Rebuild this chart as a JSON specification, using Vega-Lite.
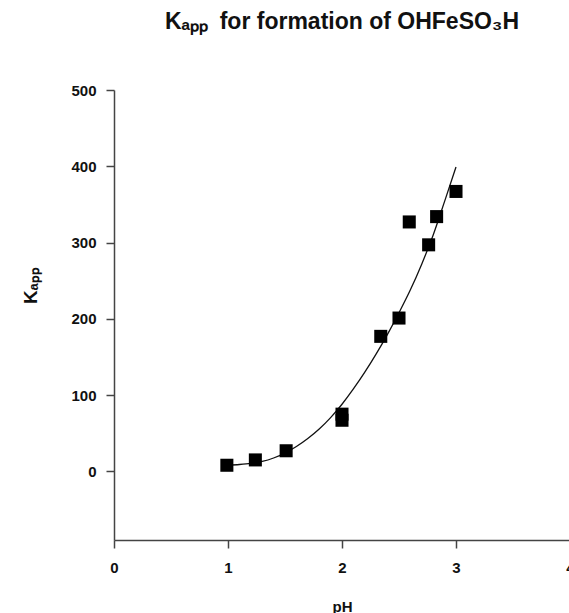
{
  "$schema": "https://vega.github.io/schema/vega-lite/v6.json",
  "autosize": "none",
  "padding": {"left": 114, "top": 90, "right": 0, "bottom": 73},
  "width": 456,
  "height": 450,
  "background": "white",
  "title": {
    "text": "Kₐₚₚ\u2002for formation of OHFeSO₃H",
    "font": "Liberation Sans",
    "fontSize": 23,
    "fontWeight": "bold",
    "color": "#111",
    "anchor": "middle",
    "offset": 49
  },
  "config": {
    "view": {"stroke": null},
    "axis": {
      "grid": false,
      "domainColor": "#444",
      "domainWidth": 1.5,
      "tickColor": "#444",
      "tickWidth": 1.5,
      "tickSize": 8,
      "labelFont": "Liberation Sans",
      "labelFontSize": 15,
      "labelFontWeight": "bold",
      "labelColor": "#111",
      "labelFlush": false,
      "titleFont": "Liberation Sans",
      "titleFontWeight": "bold",
      "titleColor": "#111"
    }
  },
  "datasets": {
    "points": [
      {"pH": 0.99, "Kapp": 8},
      {"pH": 1.24, "Kapp": 15},
      {"pH": 1.51, "Kapp": 27},
      {"pH": 2.0, "Kapp": 75},
      {"pH": 2.0, "Kapp": 67},
      {"pH": 2.34, "Kapp": 177},
      {"pH": 2.5, "Kapp": 201},
      {"pH": 2.59, "Kapp": 327},
      {"pH": 2.76, "Kapp": 297},
      {"pH": 2.83, "Kapp": 334},
      {"pH": 3.0, "Kapp": 367}
    ],
    "fit": [
      {"pH": 1.0, "Kapp": 8},
      {"pH": 1.1, "Kapp": 9},
      {"pH": 1.2, "Kapp": 10.5},
      {"pH": 1.3, "Kapp": 13},
      {"pH": 1.4, "Kapp": 17.5},
      {"pH": 1.5, "Kapp": 24},
      {"pH": 1.6, "Kapp": 32.5},
      {"pH": 1.7, "Kapp": 43},
      {"pH": 1.8, "Kapp": 55.5},
      {"pH": 1.9, "Kapp": 70.5},
      {"pH": 2.0, "Kapp": 88},
      {"pH": 2.1, "Kapp": 108},
      {"pH": 2.2, "Kapp": 130},
      {"pH": 2.3, "Kapp": 154},
      {"pH": 2.4, "Kapp": 180},
      {"pH": 2.5, "Kapp": 208},
      {"pH": 2.6, "Kapp": 238},
      {"pH": 2.7, "Kapp": 272},
      {"pH": 2.8, "Kapp": 310},
      {"pH": 2.9, "Kapp": 354},
      {"pH": 3.0, "Kapp": 399}
    ]
  },
  "layer": [
    {
      "mark": {"type": "rule", "color": "#444", "strokeWidth": 1.5},
      "encoding": {"y": {"datum": 500, "type": "quantitative", "scale": {"domain": [-90, 500]}}}
    },
    {
      "data": {"name": "fit"},
      "mark": {"type": "line", "color": "#111", "strokeWidth": 1.3, "interpolate": "monotone"},
      "encoding": {
        "x": {"field": "pH", "type": "quantitative"},
        "y": {"field": "Kapp", "type": "quantitative"}
      }
    },
    {
      "data": {"name": "points"},
      "mark": {"type": "point", "shape": "square", "filled": true, "color": "#000", "size": 170, "opacity": 1},
      "encoding": {
        "x": {
          "field": "pH", "type": "quantitative",
          "scale": {"domain": [0, 4], "nice": false, "zero": false},
          "axis": {"values": [0, 1, 2, 3, 4], "format": "d", "title": "pH", "titleFontSize": 15, "titlePadding": 24, "labelPadding": 12}
        },
        "y": {
          "field": "Kapp", "type": "quantitative",
          "scale": {"domain": [-90, 500], "nice": false, "zero": false},
          "axis": {"values": [0, 100, 200, 300, 400, 500], "title": "Kₐₚₚ", "titleFontSize": 19, "labelPadding": 10, "titleAngle": -90, "titleAlign": "center", "titleBaseline": "middle", "titleX": -84, "titleY": 195}
        }
      }
    }
  ]
}
